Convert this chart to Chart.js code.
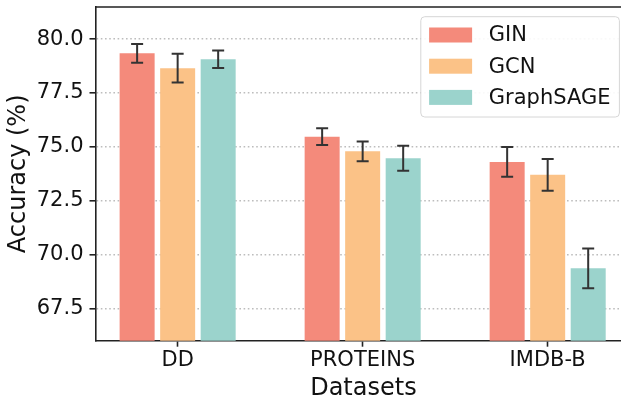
<!DOCTYPE html>
<html>
<head>
<meta charset="utf-8">
<script src="https://cdn.jsdelivr.net/npm/chart.js@4"></script>
<style>
  html, body { margin: 0; padding: 0; background: #fff; overflow: hidden; }
  #wrap { width: 621px; height: 403px; overflow: hidden; }
</style>
</head>
<body>
<div id="wrap"><canvas id="accChart" width="640" height="403"></canvas></div>
<script>
// data
const categories = ['DD', 'PROTEINS', 'IMDB-B'];
const models = ['GIN', 'GCN', 'GraphSAGE'];
const ginAcc = [79.34, 75.47, 74.30];
const ginErr = [0.435, 0.39, 0.69];
const gcnAcc = [78.65, 74.79, 73.70];
const gcnErr = [0.665, 0.455, 0.735];
const sageAcc = [79.06, 74.47, 69.36];
const sageErr = [0.405, 0.585, 0.925];
const yTicks = [67.5, 70.0, 72.5, 75.0, 77.5, 80.0];

const colors = ['#f48a7b', '#fbc287', '#9bd3cc'];
const FONT = 'DejaVu Sans';

const toPoints = arr => arr.map((v, i) => ({ x: i, y: v }));

// error bars
const errorBars = {
  id: 'errorBars',
  afterDatasetsDraw(chart) {
    const ctx = chart.ctx;
    const y = chart.scales.y;
    ctx.save();
    ctx.strokeStyle = '#333';
    ctx.lineWidth = 2;
    chart.data.datasets.forEach((ds, di) => {
      const meta = chart.getDatasetMeta(di);
      meta.data.forEach((bar, i) => {
        const v = ds.data[i].y, e = ds.errors[i];
        const top = y.getPixelForValue(v + e);
        const bot = y.getPixelForValue(v - e);
        ctx.beginPath();
        ctx.moveTo(bar.x, top); ctx.lineTo(bar.x, bot);
        ctx.moveTo(bar.x - 6, top); ctx.lineTo(bar.x + 6, top);
        ctx.moveTo(bar.x - 6, bot); ctx.lineTo(bar.x + 6, bot);
        ctx.stroke();
      });
    });
    ctx.restore();
  }
};

// top spine + legend box like matplotlib
const frameAndLegend = {
  id: 'frameAndLegend',
  afterDraw(chart) {
    const ctx = chart.ctx;
    const a = chart.chartArea;
    ctx.save();
    ctx.strokeStyle = '#222';
    ctx.lineWidth = 1.6;
    ctx.beginPath();
    ctx.moveTo(a.left, a.top); ctx.lineTo(a.right, a.top);
    ctx.moveTo(a.right, a.top); ctx.lineTo(a.right, a.bottom);
    ctx.stroke();

    const bx = a.right - 210.5, by = a.top + 9.7, bw = 198.6, bh = 100.3;
    ctx.beginPath();
    ctx.roundRect(bx, by, bw, bh, 4);
    ctx.fillStyle = 'rgba(255,255,255,0.9)';
    ctx.fill();
    ctx.strokeStyle = '#d6d6d6';
    ctx.lineWidth = 1;
    ctx.stroke();

    ctx.font = '21px "' + FONT + '"';
    ctx.textBaseline = 'middle';
    chart.data.datasets.forEach((ds, i) => {
      const cy = by + 18.3 + i * 31.2;
      ctx.fillStyle = ds.backgroundColor;
      ctx.fillRect(bx + 8.3, cy - 7.5, 43, 15);
      ctx.fillStyle = '#111';
      ctx.fillText(ds.label, bx + 68, cy + 1);
    });
    ctx.restore();
  }
};

new Chart(document.getElementById('accChart'), {
  type: 'bar',
  data: {
    datasets: [
      { label: models[0], data: toPoints(ginAcc), errors: ginErr, backgroundColor: colors[0] },
      { label: models[1], data: toPoints(gcnAcc), errors: gcnErr, backgroundColor: colors[1] },
      { label: models[2], data: toPoints(sageAcc), errors: sageErr, backgroundColor: colors[2] }
    ]
  },
  options: {
    responsive: false,
    animation: false,
    categoryPercentage: 0.657,
    barPercentage: 0.864,
    layout: { padding: { top: 7, right: 8.7, left: 0, bottom: 0 } },
    plugins: {
      legend: { display: false },
      tooltip: { enabled: false }
    },
    scales: {
      x: {
        type: 'linear',
        offset: false,
        min: -0.444,
        max: 2.452,
        afterBuildTicks: s => { s.ticks = categories.map((c, i) => ({ value: i })); },
        afterFit: s => { s.height = 62.3; s.paddingLeft = 0; s.paddingRight = 0; },
        ticks: {
          callback: v => categories[v],
          color: '#111',
          font: { family: FONT, size: 21 },
          padding: 1,
          maxRotation: 0
        },
        grid: { offset: false, drawOnChartArea: false, tickLength: 6, tickColor: '#222', tickWidth: 1.6 },
        border: { color: '#222', width: 1.6 },
        title: {
          display: true, text: 'Datasets', color: '#111',
          font: { family: FONT, size: 24 }, padding: { top: 0, bottom: 0 }
        }
      },
      y: {
        min: 66.0,
        max: 81.49,
        afterBuildTicks: s => { s.ticks = yTicks.map(v => ({ value: v })); },
        afterFit: s => { s.width = 95.5; s.paddingTop = 0; s.paddingBottom = 0; },
        ticks: {
          callback: v => v.toFixed(1),
          color: '#111',
          font: { family: FONT, size: 21 },
          padding: 6
        },
        grid: { color: '#bdbdbd', lineWidth: 1.6, tickLength: 6, tickColor: '#222', tickWidth: 1.6 },
        border: { color: '#222', width: 1.6, dash: [1.6, 2.6] },
        title: {
          display: true, text: 'Accuracy (%)', color: '#111',
          font: { family: FONT, size: 24 }, padding: { top: 4, bottom: 0 }
        }
      }
    }
  },
  plugins: [errorBars, frameAndLegend]
});
</script>
</body>
</html>
